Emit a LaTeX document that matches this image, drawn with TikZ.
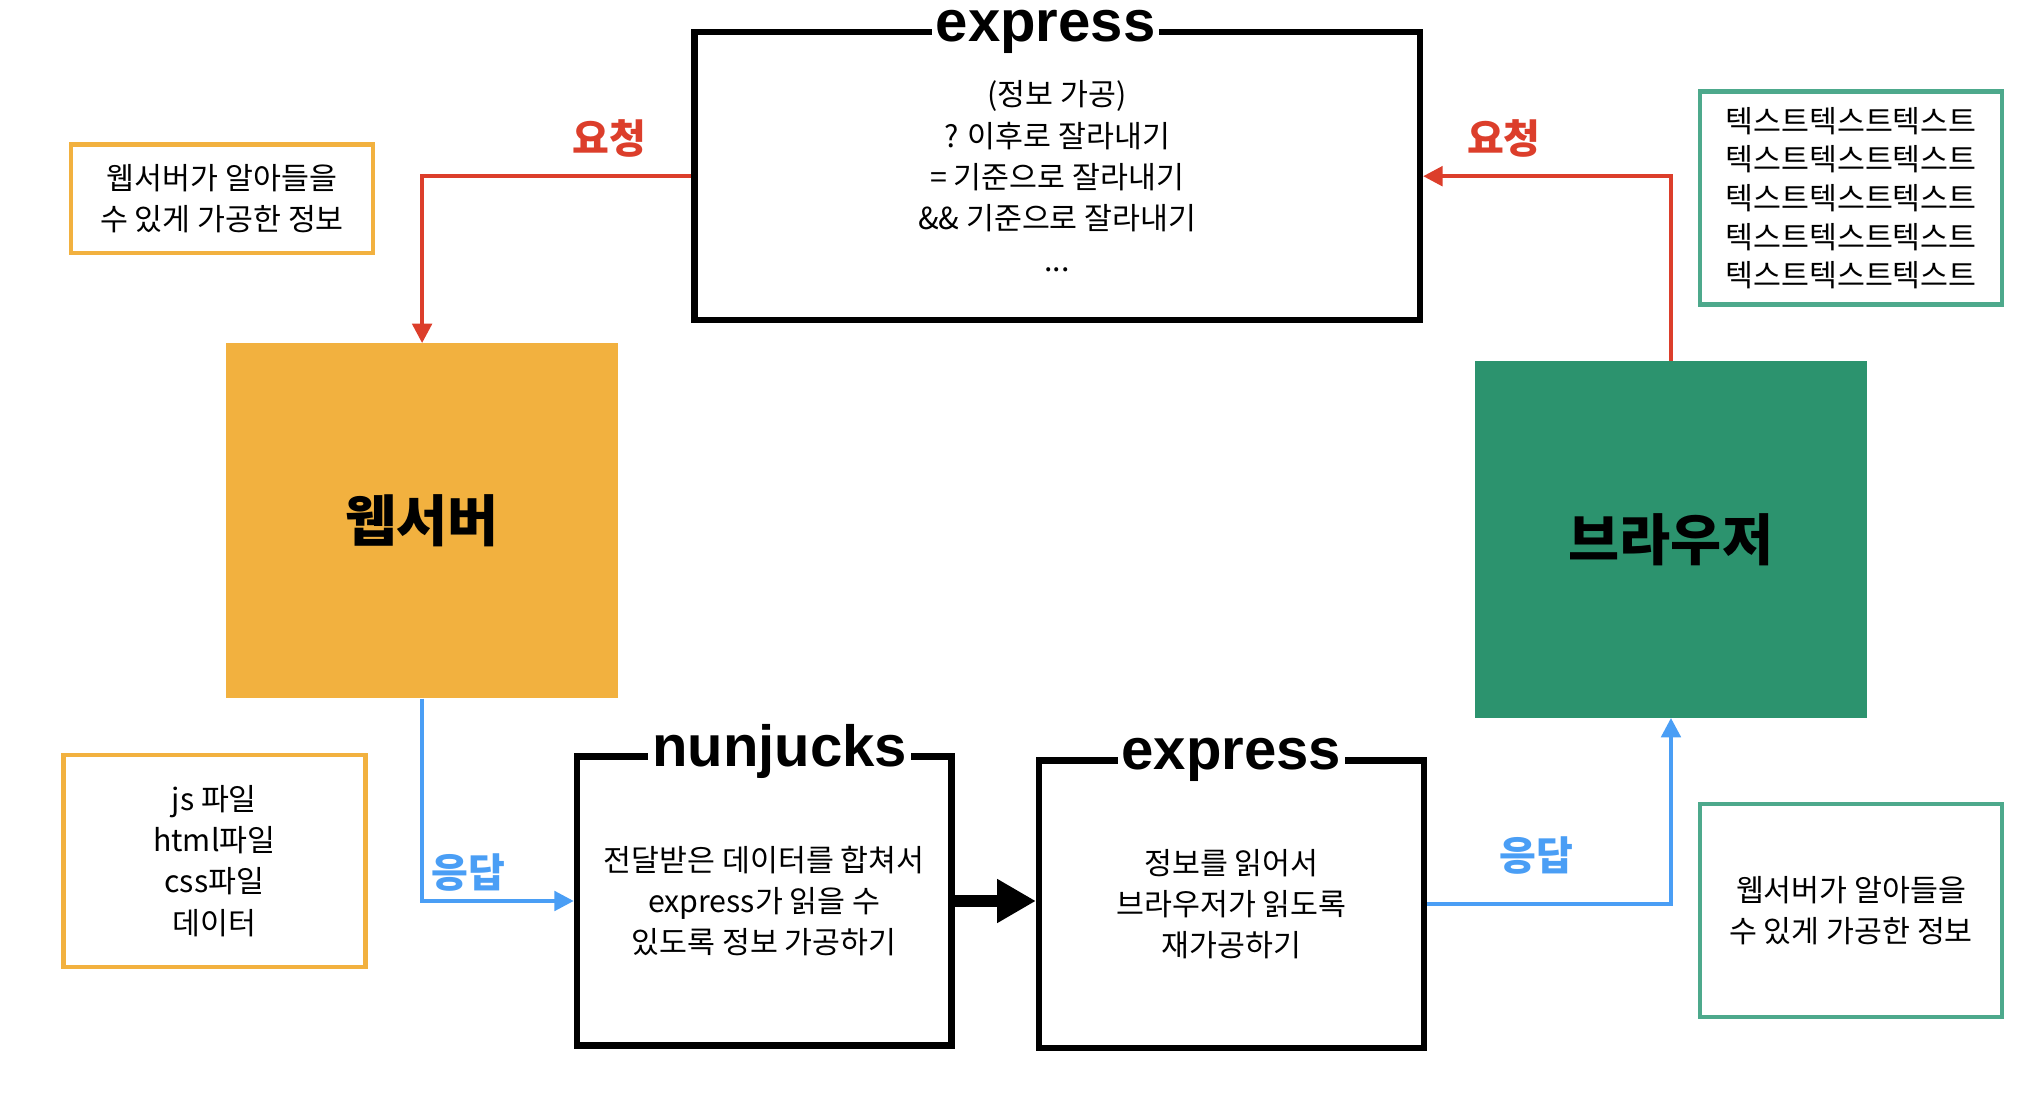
\documentclass[tikz,border=0pt]{standalone}
\usepackage{fontspec}
\setmainfont{Noto Sans CJK KR}
\newfontfamily\titlefont{Liberation Sans}
\usepackage{tikz}
\usetikzlibrary{arrows.meta, positioning}
\definecolor{myorange}{RGB}{242,177,63}
\definecolor{mygreen}{RGB}{44,147,110}
\definecolor{mygreenline}{RGB}{77,169,140}
\definecolor{myred}{RGB}{220,62,43}
\definecolor{myblue}{RGB}{74,158,245}
\newcommand{\bodysize}{\fontsize{23.5pt}{32pt}\selectfont}
\tikzset{
  fillblock/.style={rectangle, draw=none, align=center,
    font=\fontsize{43pt}{48pt}\selectfont\bfseries},
  procbox/.style={rectangle, draw=black, fill=white, line width=5pt,
    align=center, font=\bodysize},
  boxtitle/.style={fill=white, inner xsep=3pt, inner ysep=0pt,
    font=\titlefont\bfseries\fontsize{45pt}{50pt}\selectfont},
  orangenote/.style={rectangle, draw=myorange, line width=3.5pt,
    align=center, font=\bodysize},
  greennote/.style={rectangle, draw=mygreenline, line width=3.5pt,
    align=center, font=\bodysize},
  reqlabel/.style={text=myred, font=\fontsize{31pt}{34pt}\selectfont\bfseries},
  resplabel/.style={text=myblue, font=\fontsize{31pt}{34pt}\selectfont\bfseries},
  redarrow/.style={-{Triangle[length=15pt, width=15pt]}, line width=3pt, color=myred},
  bluearrow/.style={-{Triangle[length=15pt, width=15pt]}, line width=3pt, color=myblue},
  bigarrow/.style={-{Triangle[length=30pt, width=32pt]}, line width=9pt, color=black}
}

\begin{document}
\begin{tikzpicture}[x=1pt, y=-1pt]
  \useasboundingbox (0,0) rectangle (1568,858);

  % Main blocks
  \node[fillblock, fill=myorange, minimum width=304pt, minimum height=275pt] (web) at (327,403.5) {웹서버};
  \node[fillblock, fill=mygreen, minimum width=303pt, minimum height=276pt] (brw) at (1294.5,418) {브라우저};

  % Process boxes
  \node[procbox, minimum width=562pt, minimum height=223pt] (expA) at (819,136.5)
    {(정보 가공)\\? 이후로 잘라내기\\= 기준으로 잘라내기\\\&\& 기준으로 잘라내기\\...};
  \node[procbox, minimum width=290pt, minimum height=224pt] (nun) at (592,698)
    {전달받은 데이터를 합쳐서\\express가 읽을 수\\있도록 정보 가공하기};
  \node[procbox, minimum width=298pt, minimum height=223pt] (expB) at (954,700.5)
    {정보를 읽어서\\브라우저가 읽도록\\재가공하기};

  % Titles on the borders
  \node[boxtitle, anchor=base] (expAtitle) at (810,32) {express};
  \node[boxtitle, anchor=base] (nuntitle) at (604,594) {nunjucks};
  \node[boxtitle, anchor=base] (expBtitle) at (954,596) {express};

  % Notes
  \node[orangenote, minimum width=234pt, minimum height=84pt] (noteA) at (172,154)
    {웹서버가 알아들을\\수 있게 가공한 정보};
  \node[orangenote, minimum width=234pt, minimum height=164pt] (noteB) at (166,667)
    {js 파일\\html파일\\css파일\\데이터};
  \node[greennote, minimum width=234pt, minimum height=165pt,
    font=\fontsize{23.5pt}{30pt}\selectfont] (noteC) at (1434,153.5)
    {텍스트텍스트텍스트\\텍스트텍스트텍스트\\텍스트텍스트텍스트\\텍스트텍스트텍스트\\텍스트텍스트텍스트};
  \node[greennote, minimum width=234pt, minimum height=165pt] (noteD) at (1434,705.5)
    {웹서버가 알아들을\\수 있게 가공한 정보};

  % Request / response
  \draw[redarrow] (expA.west) -| (web.north);
  \draw[redarrow] (brw.north) |- (expA.east);
  \draw[bluearrow] (web.south) |- (nun.west);
  \draw[bluearrow] (expB.east) -| (brw.south);
  \draw[bigarrow] (nun.east) -- (nun.east -| expB.west);

  \node[reqlabel] (reqL) at (472,107) {요청};
  \node[reqlabel] (reqR) at (1165,107) {요청};
  \node[resplabel] (respL) at (363,676) {응답};
  \node[resplabel] (respR) at (1190,663) {응답};

\end{tikzpicture}
\end{document}
